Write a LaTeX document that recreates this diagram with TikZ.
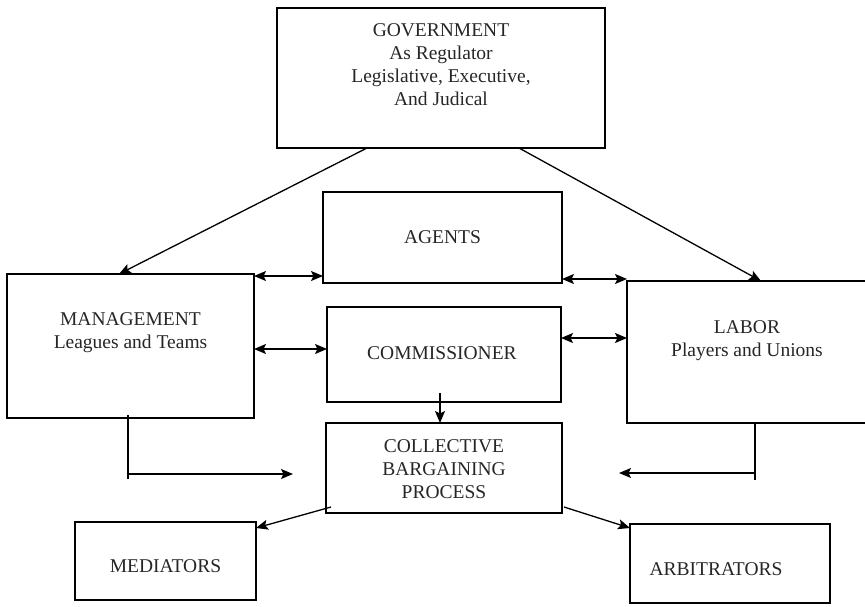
\documentclass[tikz,border=0pt]{standalone}
\usepackage{fontspec}
\setmainfont{Liberation Serif}
\usetikzlibrary{arrows.meta}
\tikzset{
	box/.style={draw, line width=1.8pt, inner sep=0pt, outer sep=0pt},
	lbl/.style={align=center, text=black!85, font=\fontsize{19.5}{23}\selectfont},
	arr/.style={line width=1.3pt, -{Stealth[length=12pt,width=10pt,inset=2.5pt]}},
	dbl/.style={line width=1.3pt, {Stealth[length=12pt,width=10pt,inset=2.5pt]}-{Stealth[length=12pt,width=10pt,inset=2.5pt]}},
	link/.style={line width=1.3pt},
}
\begin{document}
\begin{tikzpicture}[x=1pt, y=-1pt]
		\useasboundingbox (0,0) rectangle (865,606);
		\clip (0,0) rectangle (865,606);
		
		%boxes
		\node[box, minimum width=328pt, minimum height=140pt] (gov) at (441,78){};
		\node[box, minimum width=239pt, minimum height=91pt] (agents) at (442.5,237.5){};
		\node[box, minimum width=247pt, minimum height=144pt] (mgmt) at (130.5,346){};
		\node[box, minimum width=234pt, minimum height=95pt] (comm) at (444,354.5){};
		\node[box, minimum width=250pt, minimum height=142pt] (labor) at (752,352){};
		\node[box, minimum width=236pt, minimum height=90pt] (cbp) at (444,468){};
		\node[box, minimum width=181pt, minimum height=78pt] (med) at (165.5,561){};
		\node[box, minimum width=200pt, minimum height=79pt] (arb) at (730,563.5){};
		
		%labels
		\node[lbl] (gov-txt) at (441,65){GOVERNMENT\\As Regulator\\Legislative, Executive,\\And Judical};
		\node[lbl] (agents-txt) at (442.5,237){AGENTS};
		\node[lbl] (mgmt-txt) at (130.5,333){MANAGEMENT\\Leagues and Teams};
		\node[lbl] (comm-txt) at (442,353){COMMISSIONER};
		\node[lbl] (labor-txt) at (747,340.5){LABOR\\Players and Unions};
		\node[lbl] (cbp-txt) at (444,469){COLLECTIVE\\BARGAINING\\PROCESS};
		\node[lbl] (med-txt) at (165.5,566){MEDIATORS};
		\node[lbl] (arb-txt) at (716,569){ARBITRATORS};
		
		%government down to both sides
		\draw[arr] ([xshift=-74pt]gov.south) -- ([xshift=-11.5pt]mgmt.north);
		\draw[arr] ([xshift=78pt]gov.south) -- ([xshift=9pt]labor.north);
		
		%two way links
		\draw[dbl] ([yshift=-2pt]mgmt.north east) -- ([yshift=7pt]agents.south west);
		\draw[dbl] ([yshift=4pt]agents.south east) -- ([yshift=2pt]labor.north west);
		\draw[dbl] ([yshift=-3pt]mgmt.east) -- ([yshift=5.5pt]comm.west);
		\draw[dbl] ([yshift=16.5pt]comm.east) -- ([yshift=14pt]labor.west);
		
		\draw[arr] ([xshift=-4pt,yshift=9pt]comm.south) -- ([xshift=-4pt]cbp.north);
		
		%feeds into bargaining
		\draw[link] ([xshift=-2.5pt,yshift=3pt]mgmt.south) -- ([xshift=-2.5pt,yshift=-61pt]mgmt.south);
		\draw[arr] ([xshift=-2.5pt,yshift=-56pt]mgmt.south) -- ([xshift=-33pt,yshift=-6pt]cbp.west);
		\draw[link] ([xshift=3pt]labor.south) -- ([xshift=3pt,yshift=-57pt]labor.south);
		\draw[arr] ([xshift=3pt,yshift=-50pt]labor.south) -- ([xshift=57pt,yshift=-5pt]cbp.east);
		
		%outcomes
		\draw[arr] ([xshift=5pt,yshift=6pt]cbp.south west) -- ([yshift=-6pt]med.north east);
		\draw[arr] ([xshift=2pt,yshift=6pt]cbp.south east) -- ([yshift=-4pt]arb.north west);
\end{tikzpicture}
\end{document}
